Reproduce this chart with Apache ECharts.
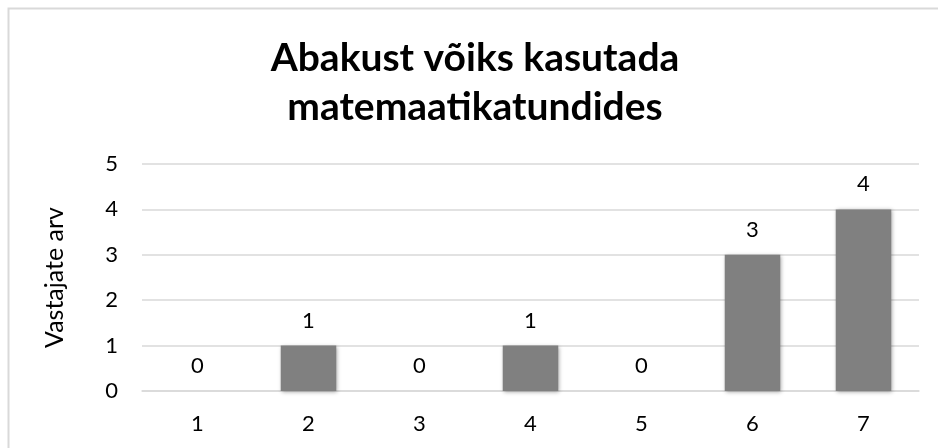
<!DOCTYPE html>
<html>
<head>
<meta charset="utf-8">
<script src="https://cdn.jsdelivr.net/npm/echarts@6/dist/echarts.min.js"></script>
<style>
  html, body { margin: 0; padding: 0; background: #fff; }
  #chart { width: 938px; height: 448px; }
</style>
</head>
<body>
<div id="chart"></div>
<script>
const titleText = 'Abakust võiks kasutada\nmatemaatikatundides';
const categories = ['1', '2', '3', '4', '5', '6', '7'];
const counts = [0, 1, 0, 1, 0, 3, 4];
const yAxisName = 'Vastajate arv';

const font = 'Lato, "Open Sans", sans-serif';
const textColor = '#000';

const chart = echarts.init(document.getElementById('chart'));
const option = {
  backgroundColor: '#fff',
  animation: false,
  graphic: [{
    type: 'rect',
    left: 6,
    top: 6,
    shape: { width: 960, height: 460 },
    style: { fill: 'none', stroke: '#d9d9d9', lineWidth: 2 },
    silent: true
  }],
  title: {
    text: titleText,
    left: 470,
    top: 29,
    textAlign: 'center',
    textStyle: {
      fontFamily: font,
      fontWeight: 'bold',
      fontSize: 39,
      lineHeight: 49,
      color: textColor
    }
  },
  grid: {
    left: 142,
    right: 19,
    top: 164,
    bottom: 57
  },
  xAxis: {
    type: 'category',
    data: categories,
    axisLine: { lineStyle: { color: '#d9d9d9', width: 1.5 } },
    axisTick: { show: false },
    axisLabel: {
      margin: 22,
      fontFamily: font,
      fontSize: 22,
      color: textColor
    }
  },
  yAxis: {
    type: 'value',
    min: 0,
    max: 5,
    interval: 1,
    name: yAxisName,
    nameLocation: 'middle',
    nameGap: 75,
    nameTextStyle: {
      fontFamily: font,
      fontSize: 25,
      color: textColor
    },
    axisLine: { show: false },
    axisTick: { show: false },
    axisLabel: {
      margin: 24,
      fontFamily: font,
      fontSize: 22,
      color: textColor
    },
    splitLine: { lineStyle: { color: '#d9d9d9', width: 1.5 } }
  },
  series: [{
    type: 'bar',
    data: counts,
    barWidth: '50%',
    itemStyle: {
      color: '#808080',
      shadowColor: 'rgba(0,0,0,0.35)',
      shadowBlur: 4,
      shadowOffsetX: 1,
      shadowOffsetY: 1
    },
    label: {
      show: true,
      position: 'top',
      distance: 14,
      fontFamily: font,
      fontSize: 22,
      color: textColor
    }
  }]
};
chart.setOption(option);
</script>
</body>
</html>
